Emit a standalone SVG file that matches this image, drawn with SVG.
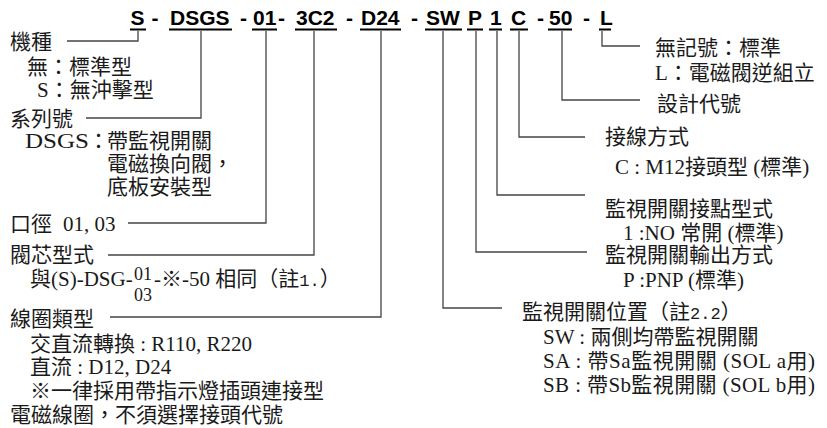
<svg xmlns="http://www.w3.org/2000/svg" width="827" height="428" viewBox="0 0 827 428">
<style>
.code{font-family:"Liberation Sans",Arial,sans-serif;font-weight:bold;font-size:21px;fill:#000}
.t{font-family:"Liberation Serif","Noto Sans CJK TC",serif;font-size:21px;fill:#1a1a1a}
.s{font-size:18px}
.m{font-family:"Liberation Mono",monospace;font-size:17px}
.ul{stroke:#000;stroke-width:2.2;fill:none}
.ln{stroke:#444;stroke-width:1.3;fill:none}
</style>
<rect width="827" height="428" fill="#fff"/>
<g id="code">
<text class="code" x="130.5" y="25">S</text>
<text class="code" x="151.5" y="25">-</text>
<text class="code" x="170" y="25">DSGS</text>
<text class="code" x="240" y="25">-</text>
<text class="code" x="253" y="25">01</text>
<text class="code" x="278" y="25">-</text>
<text class="code" x="296" y="25">3C2</text>
<text class="code" x="346" y="25">-</text>
<text class="code" x="361" y="25">D24</text>
<text class="code" x="411" y="25">-</text>
<text class="code" x="426" y="25">SW</text>
<text class="code" x="468" y="25">P</text>
<text class="code" x="490" y="25">1</text>
<text class="code" x="511" y="25">C</text>
<text class="code" x="537" y="25">-</text>
<text class="code" x="549" y="25">50</text>
<text class="code" x="583" y="25">-</text>
<text class="code" x="600" y="25">L</text>
<path class="ul" d="M130,29.5H146M169,29.5H232M252,29.5H277M295,29.5H337M360,29.5H401M425,29.5H462M467,29.5H483M489,29.5H502M510,29.5H528M548,29.5H572M599,29.5H611"/>
</g>
<g id="connectors">
<path class="ln" d="M138,31V41H67"/>
<path class="ln" d="M201,31V118H86"/>
<path class="ln" d="M266,31V223H128"/>
<path class="ln" d="M314,31V255H108"/>
<path class="ln" d="M381,31V317H110"/>
<path class="ln" d="M443,31V308H502"/>
<path class="ln" d="M476,31V252H587"/>
<path class="ln" d="M497,31V195H585"/>
<path class="ln" d="M519,31V137H585"/>
<path class="ln" d="M562,31V100H640"/>
<path class="ln" d="M602,31V46H640"/>
</g>
<g id="type">
<text class="t" x="10" y="49">機種</text>
<text class="t" x="27" y="74">無：標準型</text>
<text class="t" x="37" y="97">S：無沖擊型</text>
</g>
<g id="series">
<text class="t" x="10" y="126">系列號</text>
<text class="t" x="25" y="148" textLength="64" lengthAdjust="spacingAndGlyphs">DSGS</text>
<text class="t" y="148"><tspan x="88">：</tspan><tspan x="107">帶監視開關</tspan></text>
<text class="t" x="107" y="171">電磁換向閥，</text>
<text class="t" x="107" y="194">底板安裝型</text>
</g>
<g id="size">
<text class="t" y="231"><tspan x="10">口徑</tspan><tspan x="63">01, 03</tspan></text>
</g>
<g id="spool">
<text class="t" x="10" y="262">閥芯型式</text>
<text class="t" x="30" y="286">與(S)-DSG-</text>
<text class="t s" x="134" y="280">01</text>
<text class="t s" x="134" y="301">03</text>
<text class="t" x="154" y="286">-※-50 相同（註<tspan class="m" font-size="15">1.</tspan>）</text>
</g>
<g id="coil">
<text class="t" x="10" y="326">線圈類型</text>
<text class="t" x="30" y="351">交直流轉換 : R110, R220</text>
<text class="t" x="30" y="374">直流 : D12, D24</text>
<text class="t" x="30" y="398">※一律採用帶指示燈插頭連接型</text>
<text class="t" x="10" y="422">電磁線圈，不須選擇接頭代號</text>
</g>
<g id="assembly">
<text class="t" x="655" y="55">無記號：標準</text>
<text class="t" x="655" y="80">L：電磁閥逆組立</text>
</g>
<g id="design">
<text class="t" x="657" y="111">設計代號</text>
</g>
<g id="wiring">
<text class="t" x="605" y="144">接線方式</text>
<text class="t" x="615" y="174">C : M12接頭型 (標準)</text>
</g>
<g id="contact">
<text class="t" x="605" y="216">監視開關接點型式</text>
<text class="t" x="623" y="240">1 :NO 常開 (標準)</text>
</g>
<g id="output">
<text class="t" x="605" y="262">監視開關輸出方式</text>
<text class="t" x="623" y="287">P :PNP (標準)</text>
</g>
<g id="position">
<text class="t" x="522" y="319">監視開關位置（註<tspan class="m">2.2</tspan>）</text>
<text class="t" x="543" y="344">SW : 兩側均帶監視開關</text>
<text class="t" x="543" y="368" textLength="272">SA : 帶Sa監視開關 (SOL a用)</text>
<text class="t" x="543" y="392" textLength="272">SB : 帶Sb監視開關 (SOL b用)</text>
</g>
</svg>
